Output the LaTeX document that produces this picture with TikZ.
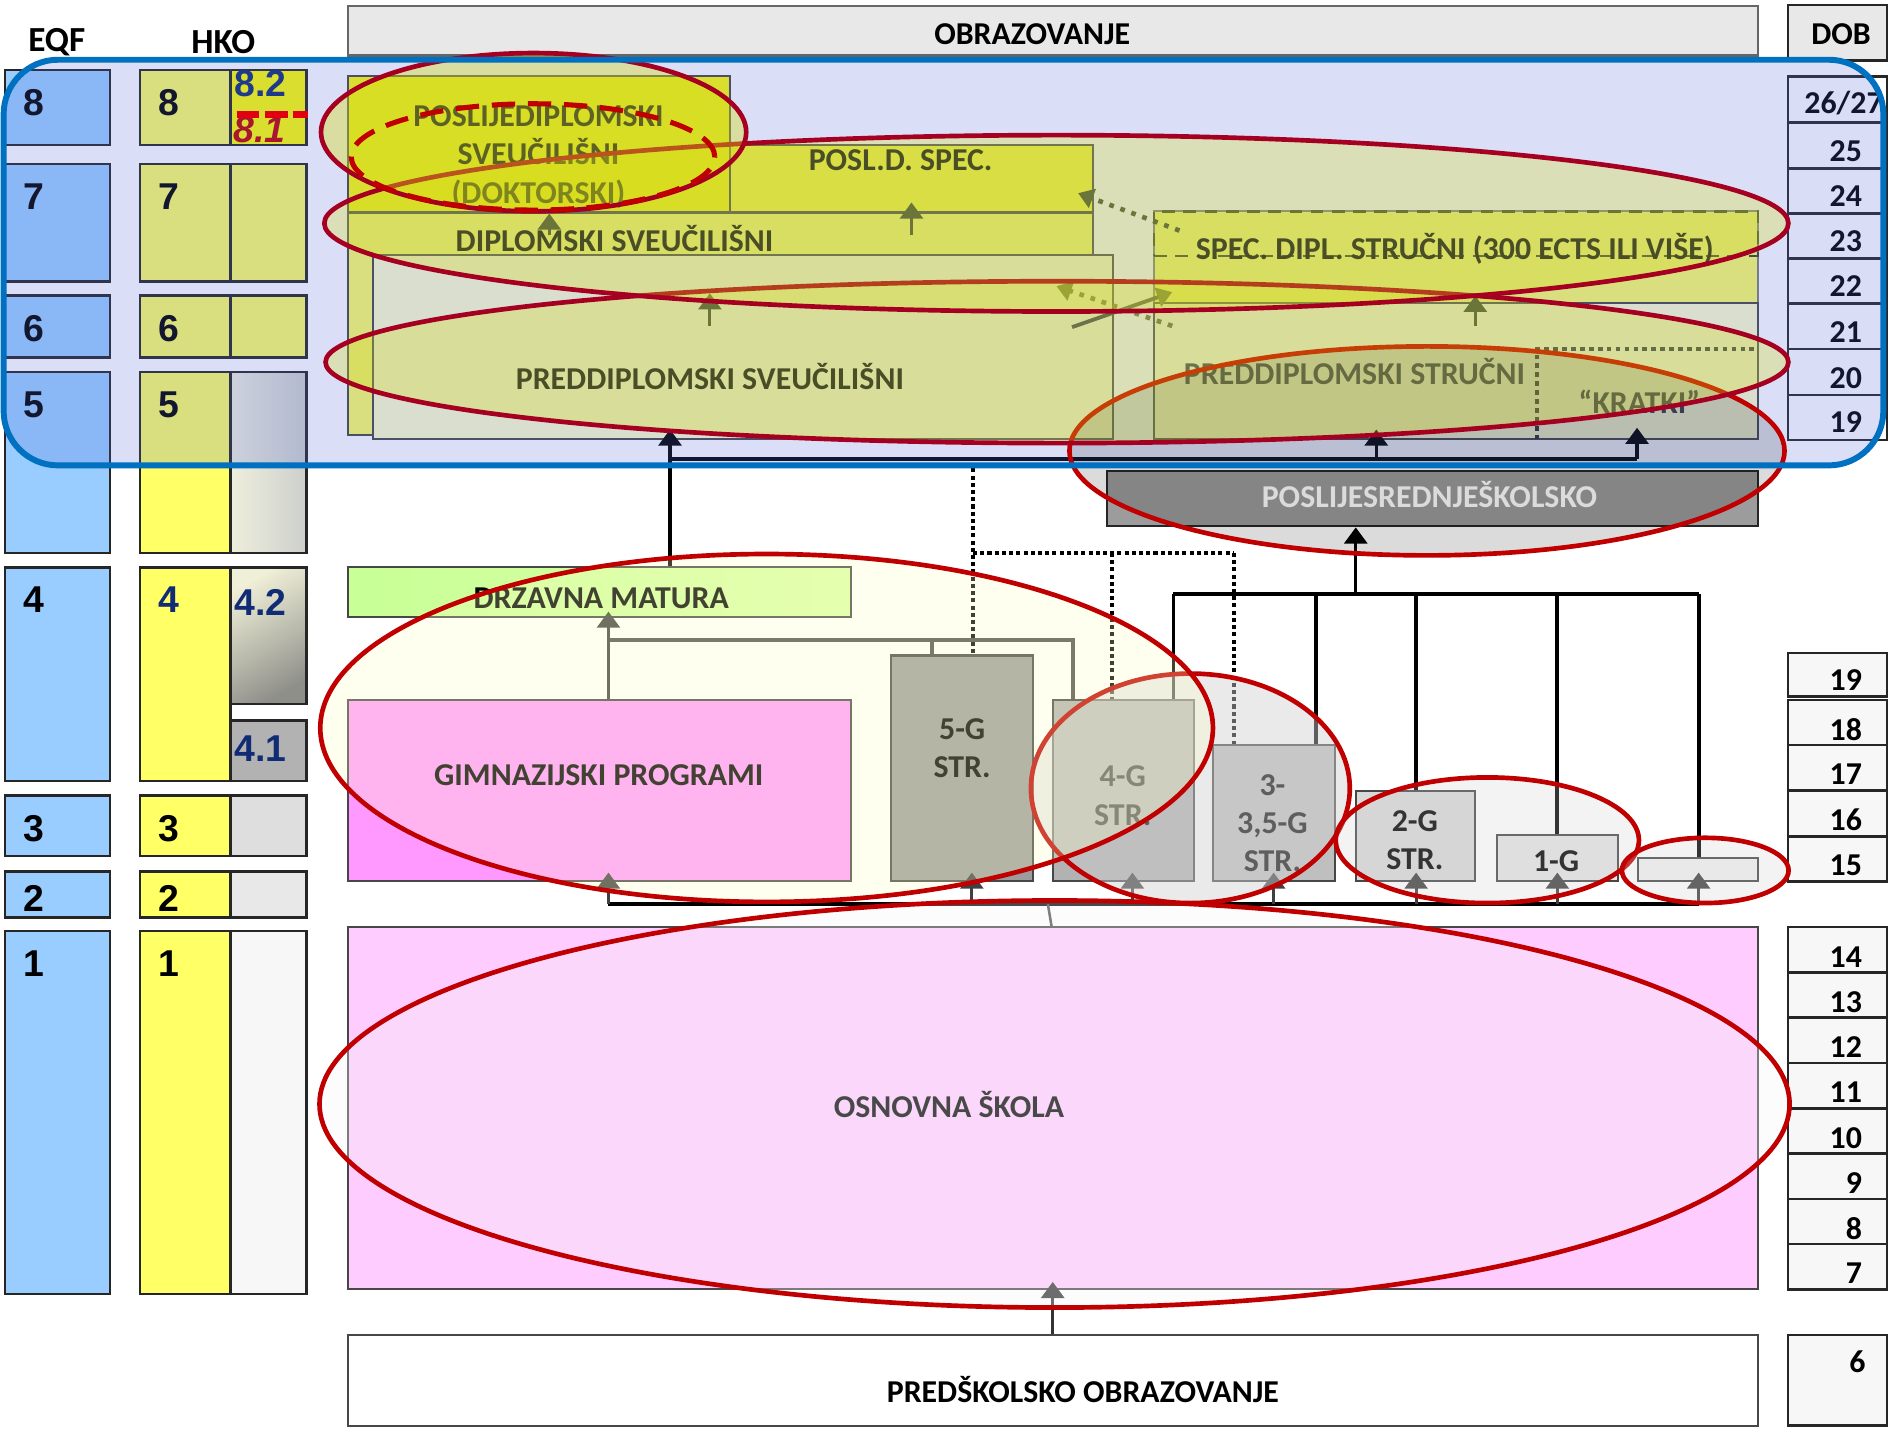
\documentclass[tikz,border=0pt]{standalone}
\usepackage{fontspec}
\setmainfont{Carlito}
\newfontfamily\arialfont{Liberation Sans}
\usetikzlibrary{fit,arrows.meta}

\definecolor{eqfblue}{HTML}{99CCFF}
\definecolor{hkoyel}{HTML}{FFFF66}
\definecolor{doktyel}{HTML}{FFFF00}
\definecolor{specyel}{HTML}{FFFF33}
\definecolor{paleyel}{HTML}{FFFFCC}
\definecolor{navy}{HTML}{102C74}
\definecolor{h5a}{HTML}{EEEEDD}
\definecolor{h5b}{HTML}{CDCFCC}
\definecolor{h42a}{HTML}{F0F0D8}
\definecolor{h42b}{HTML}{8F8F8A}
\definecolor{drza}{HTML}{C8FF96}
\definecolor{drzb}{HTML}{DCFFA8}
\definecolor{gimpink}{HTML}{FF99FF}
\definecolor{gfivegray}{HTML}{9C9C9C}
\definecolor{ospink}{HTML}{FFCCFF}
\definecolor{psrgray}{HTML}{9C9C9C}
\definecolor{olive}{HTML}{3C4420}
\definecolor{lolive}{HTML}{68702E}
\definecolor{ringred}{HTML}{C00000}
\definecolor{darkred}{HTML}{A50021}
\definecolor{dashred}{HTML}{E00010}
\definecolor{frameblue}{HTML}{0070C0}
\definecolor{veil}{RGB}{86,109,218}
\definecolor{ringfill}{RGB}{216,222,20}
\definecolor{gimfill}{HTML}{FFFFC4}

\tikzset{
  lvl/.style={draw=black!85, line width=0.6pt, inner sep=0pt},
  num/.style={font=\arialfont\fontsize{8.8}{10}\selectfont\bfseries, inner sep=0pt},
  prog/.style={draw=black!72, line width=0.5pt, inner sep=0pt},
  lbl/.style={font=\fontsize{7.5}{9}\selectfont\bfseries, align=center, inner sep=0pt},
  agebox/.style={draw=black!85, line width=0.6pt, inner sep=0pt},
  agenum/.style={font=\fontsize{7.5}{9}\selectfont\bfseries, anchor=east, inner sep=0pt},
  arr/.style={-{Triangle[length=3.8pt,width=5.4pt]}, line width=0.75pt},
  darr/.style={line width=1.1pt, dash pattern=on 1.1pt off 1.65pt, -{Triangle[length=3.6pt,width=4.6pt]}},
  bus/.style={line width=0.9pt},
  dots/.style={line width=0.95pt, dash pattern=on 0.95pt off 0.75pt},
  ring/.style={line width=1.1pt}
}

\begin{document}
\begin{tikzpicture}[x=0.01cm, y=-0.01cm]
\useasboundingbox (0,0) rectangle (1568,1186);

% headings
\node[font=\fontsize{8.3}{10}\selectfont\bfseries] (eqf) at (47,35) {EQF};
\node[font=\fontsize{8.3}{10}\selectfont\bfseries] (hko) at (185,35) {HKO};
\node[prog, draw=black!60, fill=black!9, fit={(288,5) (1456,46)}] (obr) {};
\node[lbl] (obrT) at (855,28) {OBRAZOVANJE};
\node[agebox, fill=black!9, fit={(1481,4) (1563,50)}] (dob) {};
\node[lbl] (dobT) at (1525,28) {DOB};

% EQF and HKO levels
\foreach \n/\ya/\yb/\ly/\tc in {8/58/120/85/black, 7/136/233/163/black,
    6/245/296/272/black, 5/308/458/335/black, 4/470/647/497/navy,
    3/659/709/686/black, 2/722/760/744/black, 1/771/1072/798/black}{
  \node[lvl, fill=eqfblue, fit={(4,\ya) (91,\yb)}] (e\n) {};
  \node[num] (et\n) at (28,\ly) {\n};
  \node[lvl, fill=hkoyel, fit={(116,\ya) (191,\yb)}] (h\n) {};
  \node[num, text=\tc] (ht\n) at (140,\ly) {\n};
}

% HKO sublevels
\node[lvl, fill=doktyel, fit={(191,58) (254,120)}] (h8s) {};
\node[num, text=navy] (h82) at (216,69) {8.2};
\node[num, text=ringred, font=\arialfont\fontsize{8.8}{10}\selectfont\bfseries\itshape] (h81) at (215,107) {8.1};
\node[lvl, fill=hkoyel, fit={(191,136) (254,233)}] (h7s) {};
\node[lvl, fill=hkoyel, fit={(191,245) (254,296)}] (h6s) {};
\node[lvl, left color=h5a, right color=h5b, fit={(191,308) (254,458)}] (h5s) {};
\node[lvl, top color=h42a, bottom color=h42b, shading angle=30, fit={(191,470) (254,583)}] (h42) {};
\node[num, text=navy] (h42T) at (216,499) {4.2};
\node[lvl, fill=black!30, fit={(191,597) (254,647)}] (h41) {};
\node[num, text=navy] (h41T) at (216,620) {4.1};
\node[lvl, fill=black!13, fit={(191,659) (254,709)}] (h3s) {};
\node[lvl, fill=black!9, fit={(191,722) (254,760)}] (h2s) {};
\node[lvl, fill=black!3, fit={(191,771) (254,1072)}] (h1s) {};

% DOB column
\node[agebox, fill=white, fit={(1481,63.5) (1563,101.6)}] (d2627) {};
\node[agenum, anchor=center] (dt2627) at (1527,85) {26/27};
\foreach \a/\ya/\yb/\ly in {25/101.6/139.4/125, 24/139.4/176.7/162, 23/176.7/214/200,
    22/214/251.2/237, 21/251.2/289/275, 20/289/327.2/313, 19/327.2/364.5/350}{
  \node[agebox, fill=white, fit={(1481,\ya) (1563,\yb)}] (du\a) {};
  \node[agenum] (dut\a) at (1543,\ly) {\a};
}
\foreach \a/\ya/\yb/\ly in {19/541/577/563, 18/580/617/604, 17/617/655/641,
    16/655/693/679, 15/693/730/717}{
  \node[agebox, fill=black!3, fit={(1481,\ya) (1563,\yb)}] (dm\a) {};
  \node[agenum] (dmt\a) at (1543,\ly) {\a};
}
\foreach \a/\ya/\yb/\ly in {14/768/805.5/793, 13/805.5/843/830, 12/843/880.5/867,
    11/880.5/918/905, 10/918/955.5/943, 9/955.5/993/980, 8/993/1030.5/1018, 7/1030.5/1068/1055}{
  \node[agebox, fill=black!3, fit={(1481,\ya) (1563,\yb)}] (dl\a) {};
  \node[agenum] (dlt\a) at (1543,\ly) {\a};
}
\node[agebox, fill=black!3, fit={(1481,1106) (1563,1181)}] (d6) {};
\node[agenum] (dt6) at (1546,1128) {6};

% higher education
\node[prog, fill=doktyel, fit={(288,63) (605,176)}] (dok) {};
\node[lbl] (dokT) at (446,130) {POSLIJEDIPLOMSKI\\SVEUČILIŠNI\\(DOKTORSKI)};
\node[prog, fill=specyel, fit={(605,120) (905,176)}] (posld) {};
\node[lbl] (posldT) at (746,133) {POSL.D. SPEC.};
\node[prog, fill=hkoyel, fit={(288,176) (905,360)}] (dipl) {};
\node[lbl] (diplT) at (509,198) {DIPLOMSKI SVEUČILIŠNI};
\node[prog, fill=paleyel, fit={(309,211) (922,364)}] (predsv) {};
\node[lbl] (predsvT) at (588,312) {PREDDIPLOMSKI SVEUČILIŠNI};
\node[prog, draw=black!50, fill=hkoyel, fit={(956,175) (1456,251)}] (spec) {};
\node[draw=olive, line width=0.6pt, dash pattern=on 3pt off 2pt, inner sep=0pt, fit={(956,175) (1456,212)}] (specD) {};
\node[lbl] (specT) at (1205,206) {SPEC. DIPL. STRUČNI (300 ECTS ILI VIŠE)};
\node[prog, fill=paleyel, fit={(956,251) (1456,364)}] (predstr) {};
\node[lbl, text=black!75] (predstrT) at (1122,308) {PREDDIPLOMSKI STRUČNI};
\draw[line width=1.1pt, black!80, dash pattern=on 1.1pt off 1pt] (1273,364) -- (1273,289) -- (1456,289);
\node[lbl, text=black!75] (kratT) at (1358,333) {“KRATKI”};

% arrows inside higher education
\coordinate (s1) at (455,195);
\coordinate (s2) at (755,195);
\coordinate (s3) at (588,270);
\coordinate (s4) at (1222,270);
\draw[arr, olive] (s1) -- (s1 |- dok.south);
\draw[arr, olive, shorten >=-2.6pt] (s2) -- (s2 |- posld.south);
\draw[arr, olive] (s3) -- ++(0,-27);
\draw[arr, olive] (s4) -- ++(0,-25);
\coordinate (x1) at (977,191);
\coordinate (x2) at (893,160);
\draw[darr, olive] (x1) -- (x2);
\coordinate (x3) at (971,270);
\coordinate (x4) at (875,237);
\draw[darr, lolive] (x3) -- (x4);
\coordinate (x5) at (888,271);
\coordinate (x6) at (971,242);
\draw[black!75, line width=0.9pt, -{Triangle[length=3.6pt,width=4.6pt,color=lolive]}] (x5) -- (x6);

% secondary programmes
\node[prog, left color=drza, right color=drzb, fit={(288,470) (705,511)}] (drz) {};
\node[lbl] (drzT) at (498,496) {DRZAVNA MATURA};
\node[prog, fill=gimpink, fit={(288,580) (705,730)}] (gim) {};
\node[lbl] (gimT) at (496,642) {GIMNAZIJSKI PROGRAMI};
\node[prog, fill=gfivegray, fit={(738,543) (856,730)}] (g5) {};
\node[lbl] (g5T) at (797,620) {5-G\\STR.};
\node[prog, fill=black!30, fit={(872,580) (989,730)}] (g4) {};
\node[lbl] (g4T) at (930,659) {4-G\\STR.};
\node[prog, fill=black!25, fit={(1005,617) (1106,730)}] (g3) {};
\node[lbl] (g3T) at (1054,682) {3-\\3,5-G\\STR.};
\node[prog, fill=black!15, fit={(1123,655) (1222,730)}] (g2) {};
\node[lbl] (g2T) at (1172,696) {2-G\\STR.};
\node[prog, fill=black!10, fit={(1240,692) (1340,730)}] (g1) {};
\node[lbl] (g1T) at (1289,713) {1-G};
\node[prog, fill=black!5, fit={(1357,711) (1456,730)}] (g0) {};
\node[prog, draw=black!85, fill=psrgray, fit={(917,390) (1456,436)}] (psr) {};
\node[lbl, text=white] (psrT) at (1184,410) {POSLIJESREDNJEŠKOLSKO};

% bus into higher education
\coordinate (b1w) at (555,380);
\coordinate (b1m) at (1140,380);
\coordinate (b1e) at (1356,380);
\draw[bus] (b1w) -- (b1e);
\draw[arr, shorten >=-2.6pt] (drz.north -| b1w) -- (predsv.south -| b1w);
\draw[arr, shorten >=-2.6pt] (b1m) -- (b1m |- predstr.south);
\draw[arr, shorten >=-3pt] (b1e) -- (b1e |- predstr.south);

% bus into POSLIJESREDNJE
\coordinate (b2w) at (972,492);
\coordinate (b2m) at (1123,492);
\coordinate (b2e) at (1407,492);
\draw[bus] (b2w) -- (b2e);
\draw[arr] (b2m) -- (b2m |- psr.south);
\foreach \xx/\bx in {972/g4, 1090/g3, 1173/g2, 1290/g1, 1407/g0}
  \draw[bus] (\xx,492) -- (\xx,0 |- \bx.north);

% bus into DRZAVNA MATURA
\coordinate (b3w) at (504,530);
\coordinate (b3e) at (889,530);
\draw[bus, black!70] (b3w) -- (b3e) -- (b3e |- g4.north);
\draw[bus, black!70] (772,530) -- (772,0 |- g5.north);
\draw[arr, black!75, shorten >=-1.5pt] (gim.north -| b3w) -- (drz.south -| b3w);

% dotted links
\coordinate (t1) at (806,388);
\coordinate (t2) at (806,458);
\coordinate (t3) at (921,458);
\coordinate (t4) at (1022,458);
\draw[dots] (t1) -- (t1 |- g5.north);
\draw[dots] (t2) -- (t4);
\draw[dots] (t3) -- (t3 |- g4.north);
\draw[dots] (t4) -- (t4 |- g3.north);

% bus from primary school
\coordinate (b4w) at (504,749);
\coordinate (b4e) at (1407,749);
\draw[bus] (b4w) -- (b4e);
\foreach \xx/\bx in {504/gim, 805/g5, 938/g4, 1055/g3, 1173/g2, 1290/g1, 1407/g0}
  \draw[arr, black!75, shorten >=-2.3pt] (\xx,749) -- (\xx,0 |- \bx.south);

% primary and preschool
\node[prog, fill=ospink, fit={(288,768) (1456,1068)}] (osn) {};
\node[lbl] (osnT) at (786,915) {OSNOVNA ŠKOLA};
\node[prog, fill=white, fit={(288,1106) (1456,1181)}] (pred) {};
\node[lbl] (predT) at (897,1151) {PREDŠKOLSKO OBRAZOVANJE};
\draw[black!70, line width=0.6pt] (868,749) -- (osn.north -| 871,0);
\draw[arr, black!80, shorten >=-2pt] (pred.north -| 872,0) -- (osn.south -| 872,0);

% blue veil
\fill[veil, fill opacity=0.22, rounded corners=0.45cm] (3,49.5) rectangle (1560,385.5);
\draw[dashred, line width=1.5pt, dash pattern=on 5.4pt off 1.2pt] ([xshift=0.06cm]h8s.west |- 0,95) -- (h8s.east |- 0,95);

% red rings
\draw[ring, ringred, fill=black, fill opacity=0.14] (1182,373.5) ellipse [x radius=2.96cm, y radius=0.865cm];
\draw[ring, darkred, fill=ringfill, fill opacity=0.28] (875.5,300) ellipse [x radius=6.055cm, y radius=0.67cm];
\draw[ring, darkred, fill=ringfill, fill opacity=0.28] (875,185) ellipse [x radius=6.06cm, y radius=0.73cm];
\draw[ring, darkred, fill=ringfill, fill opacity=0.38] (442,109.5) ellipse [x radius=1.76cm, y radius=0.655cm];
\draw[ringred, line width=1.2pt, dash pattern=on 5.5pt off 3pt] (441.5,130) ellipse [x radius=1.505cm, y radius=0.44cm];
\draw[ring, ringred, fill=black!18, fill opacity=0.45] (986,653) ellipse [x radius=1.32cm, y radius=0.95cm];
\draw[ring, ringred, fill=gimfill, fill opacity=0.26] (635,603) ellipse [x radius=3.695cm, y radius=1.44cm];
\draw[ring, ringred, fill=black!18, fill opacity=0.25] (1232,696) ellipse [x radius=1.255cm, y radius=0.52cm];
\draw[ring, ringred, fill=black!18, fill opacity=0.25] (1412.5,721) ellipse [x radius=0.69cm, y radius=0.27cm];
\draw[ring, ringred, fill=black!4, fill opacity=0.3] (873.5,914.5) ellipse [x radius=6.085cm, y radius=1.685cm];

% blue frame
\draw[frameblue, line width=1.4pt, rounded corners=0.45cm] (3,49.5) rectangle (1560,385.5);

\end{tikzpicture}
\end{document}
